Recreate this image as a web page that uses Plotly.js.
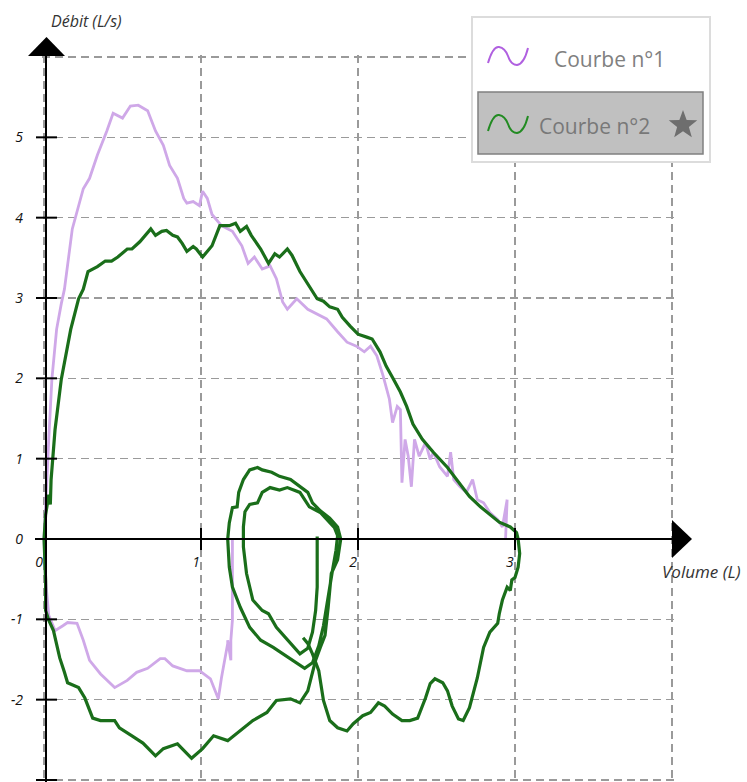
<!DOCTYPE html>
<html>
<head>
<meta charset="utf-8">
<script src="https://cdn.plot.ly/plotly-3.0.1.min.js"></script>
<style>html,body{margin:0;padding:0;background:#fff}#chart{width:747px;height:782px}</style>
</head>
<body>
<div id="chart"></div>
<script>
// ---------- DATA ----------
const xTickVals = [0, 1, 2, 3, 4];
const xTickText = ['0', '1', '2', '3', ''];
const yTickVals = [-3, -2, -1, 0, 1, 2, 3, 4, 5, 6];
const yTickText = ['-3', '-2', '-1', '0', '1', '2', '3', '4', '5', ''];

const seriesNames = ['Courbe n°1', 'Courbe n°2'];

// Courbe n°1 – expiration
const c1ExpVol  = [0,0.01,0.03,0.05,0.08,0.11,0.13,0.18,0.25,0.29,0.34,0.40,0.44,0.50,0.55,0.60,0.66,0.71,0.76,0.80,0.85,0.89,0.91,0.95,0.99,1.01,1.04,1.07,1.13,1.20,1.26,1.30,1.34,1.39,1.44,1.48,1.52,1.55,1.61,1.68,1.80,1.87,1.93,1.99,2.04,2.08,2.12,2.16,2.20,2.22,2.25,2.27,2.28,2.30,2.32,2.34,2.36,2.39,2.43,2.46,2.48,2.52,2.57,2.59,2.61,2.65,2.69,2.73,2.76,2.80,2.84,2.89,2.92,2.95,2.94];
const c1ExpFlow = [0,0.49,1.24,1.99,2.61,2.93,3.11,3.86,4.36,4.49,4.78,5.08,5.30,5.24,5.39,5.40,5.33,5.08,4.90,4.65,4.49,4.24,4.18,4.20,4.15,4.33,4.24,4.04,3.90,3.83,3.65,3.43,3.51,3.36,3.40,3.24,2.95,2.86,2.99,2.86,2.74,2.58,2.45,2.40,2.33,2.40,2.28,2.03,1.74,1.45,1.65,1.61,0.70,1.24,1.03,0.65,1.24,1.03,1.20,0.99,1.08,0.90,0.78,1.08,0.74,0.65,0.58,0.74,0.49,0.45,0.33,0.24,0.15,0.49,0.00];
// Courbe n°1 – inspiration
const c1InsVol  = [0,0.01,0.03,0.07,0.12,0.15,0.21,0.25,0.29,0.36,0.45,0.53,0.59,0.66,0.74,0.77,0.82,0.91,0.99,1.06,1.11,1.13,1.17,1.17,1.19,1.19,1.20,1.20,1.20];
const c1InsFlow = [0,-0.51,-0.95,-1.14,-1.08,-1.04,-1.05,-1.26,-1.51,-1.68,-1.85,-1.76,-1.66,-1.61,-1.49,-1.49,-1.58,-1.64,-1.64,-1.74,-1.99,-1.73,-1.30,-1.26,-1.51,-1.26,-1.01,-0.51,0];

// Courbe n°2 – forced expiration then inspiration
const c2ForcedVol  = [0,0.01,0.03,0.04,0.045,0.07,0.11,0.17,0.22,0.25,0.28,0.34,0.39,0.43,0.47,0.53,0.56,0.61,0.68,0.71,0.75,0.78,0.82,0.85,0.88,0.91,0.95,0.97,1.01,1.07,1.12,1.18,1.22,1.25,1.29,1.32,1.38,1.43,1.47,1.50,1.55,1.58,1.63,1.68,1.74,1.78,1.82,1.87,1.90,1.95,2.00,2.06,2.09,2.14,2.18,2.22,2.27,2.31,2.35,2.41,2.48,2.57,2.65,2.71,2.78,2.84,2.90,2.97,3.01,3.02,3.03,3.02,3.00,2.98,2.97,2.95,2.92,2.90,2.89,2.84,2.80,2.76,2.71,2.67,2.64,2.60,2.57,2.54,2.49,2.46,2.43,2.38,2.33,2.28,2.22,2.17,2.13,2.08,2.03,1.97,1.93,1.87,1.82,1.78,1.75,1.71,1.68,1.65];
const c2ForcedFlow = [0,0.30,0.55,0.43,0.74,1.36,1.99,2.61,2.99,3.11,3.33,3.39,3.46,3.46,3.51,3.61,3.61,3.70,3.86,3.78,3.83,3.84,3.78,3.76,3.68,3.58,3.64,3.61,3.51,3.65,3.90,3.90,3.93,3.83,3.89,3.78,3.61,3.43,3.55,3.51,3.61,3.53,3.33,3.18,2.99,2.96,2.89,2.86,2.76,2.65,2.55,2.51,2.49,2.33,2.15,2.01,1.83,1.65,1.43,1.24,1.08,0.89,0.68,0.53,0.40,0.30,0.21,0.15,0.08,0.00,-0.18,-0.35,-0.48,-0.51,-0.64,-0.60,-0.76,-0.93,-1.05,-1.16,-1.35,-1.73,-2.10,-2.26,-2.24,-2.08,-1.89,-1.79,-1.74,-1.80,-1.98,-2.23,-2.26,-2.26,-2.18,-2.08,-2.04,-2.16,-2.20,-2.30,-2.39,-2.35,-2.26,-2.01,-1.64,-1.43,-1.30,-1.23];
// Courbe n°2 – inspiration from 0 then tidal loops
const c2TidalVol  = [0,0.01,0.01,0.03,0.06,0.08,0.10,0.13,0.15,0.22,0.26,0.31,0.36,0.45,0.48,0.56,0.63,0.71,0.76,0.85,0.94,1.01,1.08,1.17,1.25,1.33,1.42,1.48,1.57,1.63,1.68,1.73,1.76,1.79,1.81,1.83,1.87,1.89,1.87,1.82,1.76,1.71,1.68,1.63,1.57,1.50,1.45,1.39,1.36,1.31,1.27,1.24,1.23,1.20,1.18,1.17,1.18,1.20,1.25,1.31,1.38,1.46,1.52,1.60,1.66,1.71,1.75,1.78,1.81,1.84,1.86,1.87,1.85,1.80,1.76,1.69,1.63,1.59,1.55,1.50,1.44,1.39,1.36,1.31,1.28,1.27,1.27,1.29,1.33,1.39,1.43,1.48,1.55,1.63,1.68,1.71,1.73,1.74,1.74,1.74];
const c2TidalFlow = [0,-0.51,-0.89,-1.01,-1.14,-1.33,-1.48,-1.66,-1.79,-1.85,-1.98,-2.23,-2.26,-2.26,-2.35,-2.45,-2.54,-2.70,-2.61,-2.55,-2.73,-2.61,-2.45,-2.51,-2.39,-2.26,-2.16,-2.01,-1.99,-2.04,-1.89,-1.51,-1.35,-1.20,-0.85,-0.43,-0.26,0.00,0.15,0.26,0.35,0.45,0.58,0.65,0.74,0.78,0.83,0.86,0.89,0.86,0.74,0.58,0.40,0.39,0.20,0.00,-0.35,-0.60,-0.85,-1.10,-1.26,-1.35,-1.43,-1.54,-1.61,-1.54,-1.33,-1.08,-0.70,-0.36,-0.14,0.04,0.14,0.24,0.33,0.40,0.58,0.61,0.64,0.61,0.64,0.58,0.45,0.43,0.34,0.15,-0.10,-0.43,-0.76,-0.89,-0.93,-1.10,-1.26,-1.43,-1.36,-1.16,-0.89,-0.60,-0.26,0.03];

// ---------- GEOMETRY (pixel -> paper) ----------
const xRange = [-0.013, 4.013];
const yRange = [-3.025, 6.025];
const L = 42, W = 632, T = 55, H = 727;
const PX = x => (x - L) / W;
const PY = y => (T + H - y) / H;

const purple = '#cfa8e8';
const green = '#1a6e1a';

const traces = [
  {x: c1ExpVol.concat([null], c1InsVol), y: c1ExpFlow.concat([null], c1InsFlow),
   mode: 'lines', name: seriesNames[0], line: {color: purple, width: 2.8}, hoverinfo: 'skip'},
  {x: c2ForcedVol.concat([null], c2TidalVol), y: c2ForcedFlow.concat([null], c2TidalFlow),
   mode: 'lines', name: seriesNames[1], line: {color: green, width: 3.2}, hoverinfo: 'skip'}
];

const shapes = [];
// axes lines and arrows
shapes.push({type: 'line', xref: 'paper', yref: 'paper', x0: PX(46), x1: PX(46), y0: PY(784), y1: PY(56), line: {color: '#000', width: 2}});
shapes.push({type: 'path', xref: 'paper', yref: 'paper', path: `M ${PX(28)} ${PY(56)} L ${PX(46.5)} ${PY(37)} L ${PX(65)} ${PY(56)} Z`, fillcolor: '#000', line: {width: 0}});
shapes.push({type: 'line', xref: 'paper', yref: 'y', x0: PX(35), x1: PX(672), y0: 0, y1: 0, line: {color: '#000', width: 2}});
shapes.push({type: 'path', xref: 'paper', yref: 'paper', path: `M ${PX(672)} ${PY(520)} L ${PX(692)} ${PY(539)} L ${PX(672)} ${PY(558)} Z`, fillcolor: '#000', line: {width: 0}});
// tick marks crossing the axes
yTickVals.forEach(v => { if (v !== 0 && v !== 6) shapes.push({type: 'line', xref: 'paper', yref: 'y', x0: PX(36), x1: PX(57), y0: v, y1: v, line: {color: '#000', width: 2}}); });
xTickVals.forEach(v => { if (v !== 0 && v !== 4) shapes.push({type: 'line', xref: 'x', yref: 'paper', x0: v, x1: v, y0: PY(528), y1: PY(550), line: {color: '#000', width: 2}}); });

// legend box
shapes.push({type: 'rect', xref: 'paper', yref: 'paper', x0: PX(472), x1: PX(710), y0: PY(17), y1: PY(162), fillcolor: '#fff', line: {color: '#dcdcdc', width: 2}});
shapes.push({type: 'rect', xref: 'paper', yref: 'paper', x0: PX(478), x1: PX(703), y0: PY(92), y1: PY(154), fillcolor: '#c0c0c0', line: {color: '#808080', width: 1.5}});
function wave(x0, yb, color) {
  const pt = (dx, dy) => `${PX(x0 + dx)} ${PY(yb + dy)}`;
  const p = `M ${pt(0, 0)} Q ${pt(5, -17)} ${pt(11, -16)} Q ${pt(17, -15)} ${pt(20, -7)} Q ${pt(23, 2)} ${pt(29, 2)} Q ${pt(36, 1)} ${pt(40, -15)}`;
  return {type: 'path', xref: 'paper', yref: 'paper', path: p, line: {color: color, width: 2}};
}
shapes.push(wave(488, 63, '#b060e0'));
shapes.push(wave(488, 131, '#228b22'));
// star
(function () {
  const cx = 683, cy = 125, R = 15, r = 6.2;
  let d = '';
  for (let i = 0; i < 10; i++) {
    const rad = i % 2 === 0 ? R : r;
    const a = -Math.PI / 2 + i * Math.PI / 5;
    const x = cx + rad * Math.cos(a), y = cy + rad * Math.sin(a);
    d += (i === 0 ? 'M ' : ' L ') + PX(x) + ' ' + PY(y);
  }
  shapes.push({type: 'path', xref: 'paper', yref: 'paper', path: d + ' Z', fillcolor: '#6e6e6e', line: {width: 0}});
})();

const annotations = [
  {xref: 'paper', yref: 'paper', x: PX(49), y: PY(21), xanchor: 'left', yanchor: 'middle', showarrow: false,
   text: 'Débit (L/s)', font: {family: 'Open Sans', size: 16, color: '#333', style: 'italic'}},
  {xref: 'paper', yref: 'paper', x: PX(660), y: PY(571), xanchor: 'left', yanchor: 'middle', showarrow: false,
   text: 'Volume (L)', font: {family: 'Open Sans', size: 17, color: '#333', style: 'italic'}},
  {xref: 'paper', yref: 'paper', x: PX(552), y: PY(59), xanchor: 'left', yanchor: 'middle', showarrow: false,
   text: seriesNames[0], font: {family: 'Open Sans', size: 21, color: '#808080'}},
  {xref: 'paper', yref: 'paper', x: PX(537), y: PY(126), xanchor: 'left', yanchor: 'middle', showarrow: false,
   text: seriesNames[1], font: {family: 'Open Sans', size: 21, color: '#787878'}}
];

const tickFont = {family: 'Open Sans', size: 14, color: '#111', style: 'italic'};
const grid = {showgrid: true, gridcolor: '#9a9a9a', gridwidth: 1.5, griddash: '8px,5px', zeroline: false, showline: false, ticks: ''};

const layout = {
  width: 747, height: 782,
  margin: {l: L, r: 747 - L - W, t: T, b: 782 - T - H, pad: 0},
  paper_bgcolor: '#fff', plot_bgcolor: '#fff',
  showlegend: false,
  xaxis: Object.assign({range: xRange, tickmode: 'array', tickvals: xTickVals, ticktext: xTickText,
    anchor: 'free', position: (0 - yRange[0]) / (yRange[1] - yRange[0]), tickfont: tickFont,
    ticklabelshift: -5, ticklabelstandoff: 13, fixedrange: true}, grid),
  yaxis: Object.assign({range: yRange, tickmode: 'array', tickvals: yTickVals, ticktext: yTickText,
    tickfont: tickFont, ticklabelstandoff: 18, fixedrange: true}, grid),
  shapes: shapes,
  annotations: annotations
};

Plotly.newPlot('chart', traces, layout, {displayModeBar: false, staticPlot: true});
</script>
</body>
</html>
